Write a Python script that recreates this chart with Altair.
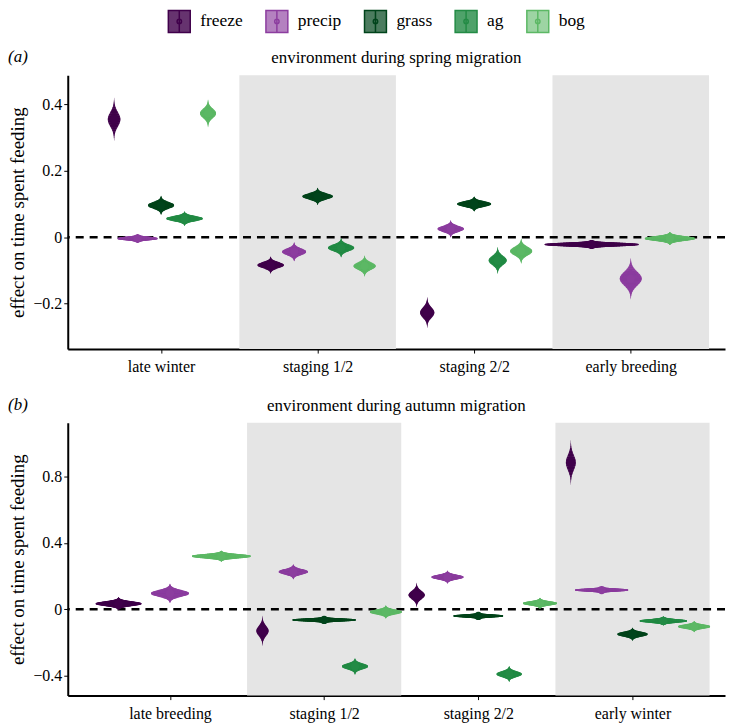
import altair as alt
import numpy as np
import pandas as pd

# ---------------- data ----------------
SERIES = ["freeze", "precip", "grass", "ag", "bog"]
LINE_COLORS = ["#40004b", "#8c3d9f", "#00441b", "#238b45", "#5cb865"]
FILL_COLORS = ["#66336f", "#b481c0", "#4c7c5f", "#4fa26a", "#9dd4a3"]

SPRING_CATS = ["late winter", "staging 1/2", "staging 2/2", "early breeding"]
AUTUMN_CATS = ["late breeding", "staging 1/2", "staging 2/2", "early winter"]

# posterior mean effect, per series, per category (None = not in model)
spring_mean = {
    "freeze": [0.355, -0.084, -0.227, -0.022],
    "precip": [-0.004, -0.044, 0.025, -0.125],
    "grass":  [0.096, 0.123, 0.100, None],
    "ag":     [0.056, -0.032, -0.070, None],
    "bog":    [0.373, -0.087, -0.042, -0.004],
}
# half range of the posterior (tail to tail / 2)
spring_spread = {
    "freeze": [0.063, 0.024, 0.045, 0.012],
    "precip": [0.012, 0.027, 0.024, 0.060],
    "grass":  [0.027, 0.024, 0.021, None],
    "ag":     [0.020, 0.027, 0.039, None],
    "bog":    [0.040, 0.030, 0.036, 0.018],
}
# maximum violin half width (category units)
spring_width = {
    "freeze": [0.040, 0.083, 0.045, 0.300],
    "precip": [0.127, 0.076, 0.083, 0.070],
    "grass":  [0.083, 0.096, 0.108, None],
    "ag":     [0.115, 0.083, 0.057, None],
    "bog":    [0.051, 0.070, 0.070, 0.160],
}

autumn_mean = {
    "freeze": [0.034, -0.130, 0.086, 0.884],
    "precip": [0.096, 0.226, 0.194, 0.116],
    "grass":  [None, -0.064, -0.040, -0.150],
    "ag":     [None, -0.344, -0.390, -0.070],
    "bog":    [0.320, -0.016, 0.036, -0.104],
}
autumn_spread = {
    "freeze": [0.036, 0.087, 0.070, 0.132],
    "precip": [0.054, 0.042, 0.036, 0.018],
    "grass":  [None, 0.018, 0.018, 0.036],
    "ag":     [None, 0.046, 0.045, 0.024],
    "bog":    [0.030, 0.036, 0.030, 0.030],
}
autumn_width = {
    "freeze": [0.148, 0.039, 0.052, 0.032],
    "precip": [0.123, 0.094, 0.103, 0.172],
    "grass":  [None, 0.205, 0.161, 0.097],
    "ag":     [None, 0.084, 0.081, 0.153],
    "bog":    [0.190, 0.103, 0.110, 0.103],
}

SPRING_DODGE = 0.75
AUTUMN_DODGE = 1.0

FONT = "'Liberation Serif', 'Times New Roman', serif"
T_OUT = np.linspace(-1, 1, 61)
T_IN = np.linspace(-0.5, 0.5, 25)


def build(cats, mean, spread, width, dodge):
    outer, inner, pts = [], [], []
    for ci, _ in enumerate(cats):
        present = [s for s in SERIES if mean[s][ci] is not None]
        n = len(present)
        for k, s in enumerate(present):
            pos = ci + 1 + (k - (n - 1) / 2) * dodge / n
            m, e, w = mean[s][ci], spread[s][ci], width[s][ci]
            vid = f"{s}-{ci}"
            for t in T_OUT:
                g = np.exp(-4.5 * t * t)
                outer.append(dict(vid=vid, series=s, y=m + t * e, x=pos - w * g, x2=pos + w * g))
            for t in T_IN:
                g = 0.85 * np.exp(-4.5 * t * t) * (1 - abs(t) / 0.5) ** 0.7
                inner.append(dict(vid=vid, series=s, y=m + t * e, x=pos - w * g, x2=pos + w * g))
            pts.append(dict(series=s, x=pos, y=m))
    return pd.DataFrame(outer), pd.DataFrame(inner), pd.DataFrame(pts)


legend_path = ("M-1,-1H1V1H-1Z M0,-1V1 "
               "M0.2,0A0.2,0.2 0 1,1 -0.2,0A0.2,0.2 0 1,1 0.2,0Z")

W = 660


def panel(cats, mean, spread, width, dodge, ydom, yvals, xdom, title, tag, h, show_legend):
    outer, inner, pts = build(cats, mean, spread, width, dodge)
    xsc = alt.Scale(domain=xdom, nice=False, zero=False)
    ysc = alt.Scale(domain=ydom, nice=False, zero=False)
    lab = "[''," + ",".join(f"'{c}'" for c in cats) + "][datum.value]"
    xaxis = alt.Axis(values=[1, 2, 3, 4], labelExpr=lab, title=None, grid=False,
                     labelPadding=6)
    yaxis = alt.Axis(values=yvals, title="effect on time spent feeding", grid=False,
                     labelExpr="datum.value == 0 ? '0' : format(datum.value, '.1f')",
                     titlePadding=5)
    if show_legend:
        leg = alt.Legend(orient="none", legendX=100, legendY=-66, direction="horizontal",
                         title=None, symbolType=legend_path, symbolSize=484,
                         symbolStrokeWidth=1.5, labelFontSize=17.5, labelFont=FONT,
                         labelColor="black", labelOffset=9, columnPadding=20)
    else:
        leg = None
    fill_sc = alt.Scale(domain=SERIES, range=FILL_COLORS)
    line_sc = alt.Scale(domain=SERIES, range=LINE_COLORS)

    bands = alt.Chart(pd.DataFrame({"b0": [1.5, 3.5], "b1": [2.5, 4.5]})).mark_rect(
        color="#e5e5e5").encode(
        x=alt.X("b0:Q", scale=xsc, axis=xaxis), x2="b1:Q",
        y=alt.value(0), y2=alt.value(h))
    zero = alt.Chart(pd.DataFrame({"z": [0]})).mark_rule(
        color="black", strokeDash=[8, 6], strokeWidth=2.5).encode(
        y=alt.Y("z:Q", scale=ysc, axis=yaxis))
    vio = alt.Chart(outer).mark_area(orient="horizontal", strokeWidth=1.2,
                                     fillOpacity=1, interpolate="monotone").encode(
        y=alt.Y("y:Q", scale=ysc),
        x=alt.X("x:Q", scale=xsc, stack=None),
        x2="x2:Q",
        detail="vid:N",
        fill=alt.Fill("series:N", scale=fill_sc, legend=leg),
        stroke=alt.Stroke("series:N", scale=line_sc, legend=leg),
        order="y:Q",
    )
    vin = alt.Chart(inner).mark_area(orient="horizontal", strokeWidth=0.7, fill="white",
                                     fillOpacity=0.45, strokeOpacity=0.8).encode(
        y=alt.Y("y:Q", scale=ysc),
        x=alt.X("x:Q", scale=xsc, stack=None),
        x2="x2:Q",
        detail="vid:N",
        stroke=alt.Stroke("series:N", scale=line_sc, legend=None),
        order="y:Q",
    )
    dots = alt.Chart(pts).mark_circle(size=70, opacity=1).encode(
        x=alt.X("x:Q", scale=xsc),
        y=alt.Y("y:Q", scale=ysc),
        color=alt.Color("series:N", scale=line_sc, legend=None),
    )
    tagtxt = alt.Chart(pd.DataFrame({"t": [tag]})).mark_text(
        font=FONT, fontSize=17, fontStyle="italic", align="center", baseline="middle",
        color="black").encode(text="t:N", x=alt.value(-50), y=alt.value(-18))
    titletxt = alt.Chart(pd.DataFrame({"t": [title]})).mark_text(
        font=FONT, fontSize=17, align="center", baseline="middle",
        color="black").encode(text="t:N", x=alt.value(W / 2), y=alt.value(-17))
    return alt.layer(bands, zero, vio, vin, dots, tagtxt, titletxt).properties(
        width=W, height=h)


pa = panel(SPRING_CATS, spring_mean, spring_spread, spring_width, SPRING_DODGE,
           [-0.337, 0.488], [-0.2, 0, 0.2, 0.4], [0.404, 4.602],
           "environment during spring migration", "(a)", 275, True)
pb = panel(AUTUMN_CATS, autumn_mean, autumn_spread, autumn_width, AUTUMN_DODGE,
           [-0.52, 1.124], [-0.4, 0, 0.4, 0.8], [0.337, 4.6],
           "environment during autumn migration", "(b)", 274, False)

chart = alt.vconcat(pa, pb, spacing=21).resolve_scale(x="independent", y="independent").properties(
    padding={"left": 0, "top": 0, "right": 0, "bottom": 0}
).configure_view(stroke=None).configure_axis(
    domainColor="black", domainWidth=2, tickColor="black", tickSize=4, tickWidth=1,
    labelFont=FONT, labelFontSize=16, labelColor="black",
    titleFont=FONT, titleFontSize=19, titleFontWeight="normal", titleColor="black",
)

chart.save("out.html", embed_options={"renderer": "svg", "actions": False})
